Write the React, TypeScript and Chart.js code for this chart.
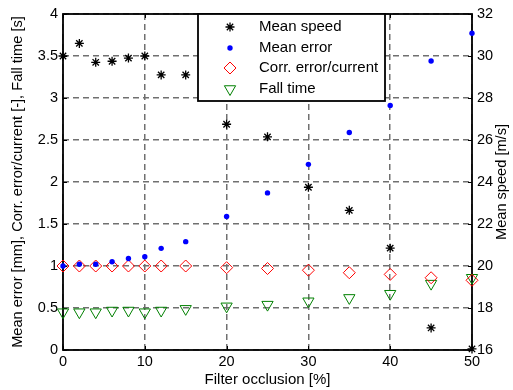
import { useEffect, useRef } from 'react';
import { Chart, registerables } from 'chart.js';

Chart.register(...registerables);

const occlusion = [0, 2, 4, 6, 8, 10, 12, 15, 20, 25, 30, 35, 40, 45, 50];
const meanSpeed = [30.0, 30.6, 29.7, 29.75, 29.9, 30.0, 29.1, 29.1, 26.75, 26.15, 23.75, 22.65, 20.85, 17.05, 16.05];
const meanError = [1.0, 1.02, 1.02, 1.05, 1.09, 1.11, 1.21, 1.29, 1.59, 1.87, 2.21, 2.59, 2.91, 3.44, 3.77];
const corrError = [1.0, 1.0, 1.0, 1.0, 1.0, 1.0, 1.0, 1.0, 0.98, 0.97, 0.95, 0.92, 0.9, 0.86, 0.83];
const fallTime = [0.45, 0.45, 0.45, 0.47, 0.47, 0.45, 0.47, 0.49, 0.52, 0.54, 0.58, 0.62, 0.67, 0.79, 0.86];

const seriesLabels = ['Mean speed', 'Mean error', 'Corr. error/current', 'Fall time'];
const xTitle = 'Filter occlusion [%]';
const yTitle = 'Mean error [mm], Corr. error/current [-], Fall time [s]';
const y1Title = 'Mean speed [m/s]';

const FONT = '"Liberation Sans", Arial, sans-serif';

function pts(vals: number[]) {
  return occlusion.map((x, i) => ({ x, y: vals[i] }));
}

function drawMarker(ctx: CanvasRenderingContext2D, kind: number, x: number, y: number) {
  ctx.save();
  ctx.lineWidth = 1;
  if (kind === 0) {
    ctx.strokeStyle = '#000';
    ctx.lineWidth = 1.3;
    const r = 4.5;
    ctx.beginPath();
    ctx.moveTo(x - r, y); ctx.lineTo(x + r, y);
    ctx.moveTo(x, y - r); ctx.lineTo(x, y + r);
    const d = r * Math.SQRT1_2;
    ctx.moveTo(x - d, y - d); ctx.lineTo(x + d, y + d);
    ctx.moveTo(x - d, y + d); ctx.lineTo(x + d, y - d);
    ctx.stroke();
  } else if (kind === 1) {
    ctx.fillStyle = '#0000ff';
    ctx.beginPath();
    ctx.arc(x, y, 2.7, 0, Math.PI * 2);
    ctx.fill();
  } else if (kind === 2) {
    ctx.strokeStyle = '#ff0000';
    const r = 6;
    ctx.beginPath();
    ctx.moveTo(x, y - r); ctx.lineTo(x + r, y); ctx.lineTo(x, y + r); ctx.lineTo(x - r, y);
    ctx.closePath();
    ctx.stroke();
  } else {
    ctx.strokeStyle = '#008000';
    const r = 6.5;
    ctx.beginPath();
    ctx.moveTo(x, y + r);
    ctx.lineTo(x + r * Math.sin(Math.PI * 2 / 3), y - r / 2);
    ctx.lineTo(x - r * Math.sin(Math.PI * 2 / 3), y - r / 2);
    ctx.closePath();
    ctx.stroke();
  }
  ctx.restore();
}

const decorPlugin = {
  id: 'decor',
  beforeDatasetsDraw(chart: any) {
    const { ctx, chartArea: ca } = chart;
    const L = Math.round(ca.left);
    const R = Math.round(ca.right);
    const T = Math.round(ca.top);
    const B = Math.round(ca.bottom);
    ctx.save();
    ctx.strokeStyle = '#000';
    ctx.lineWidth = 1;
    ctx.beginPath();
    const xs = chart.scales.x;
    xs.ticks.forEach((t: any) => {
      const px = Math.round(xs.getPixelForValue(t.value)) + 0.5;
      ctx.moveTo(px, B); ctx.lineTo(px, B - 4);
      ctx.moveTo(px, T); ctx.lineTo(px, T + 4);
    });
    const ys = chart.scales.y;
    ys.ticks.forEach((t: any) => {
      const py = Math.round(ys.getPixelForValue(t.value)) + 0.5;
      ctx.moveTo(L, py); ctx.lineTo(L + 4, py);
    });
    const y1 = chart.scales.y1;
    y1.ticks.forEach((t: any) => {
      const py = Math.round(y1.getPixelForValue(t.value)) + 0.5;
      ctx.moveTo(R, py); ctx.lineTo(R - 4, py);
    });
    ctx.stroke();
    ctx.lineWidth = 1.8;
    ctx.strokeRect(L, T, R - L, B - T);
    ctx.restore();
  },
  afterDraw(chart: any) {
    const { ctx, chartArea: ca } = chart;
    const T = Math.round(ca.top);
    ctx.save();
    ctx.fillStyle = '#000';
    ctx.font = '15px ' + FONT;
    ctx.textAlign = 'center';
    ctx.textBaseline = 'middle';
    ctx.fillText(xTitle, (ca.left + ca.right) / 2, 380);
    ctx.font = '14.6px ' + FONT;
    ctx.save();
    ctx.translate(18, (ca.top + ca.bottom) / 2);
    ctx.rotate(-Math.PI / 2);
    ctx.fillText(yTitle, 0, 0);
    ctx.restore();
    ctx.save();
    ctx.translate(502, (ca.top + ca.bottom) / 2);
    ctx.rotate(-Math.PI / 2);
    ctx.fillText(y1Title, 0, 0);
    ctx.restore();

    // legend
    const lx = 198, ly = T, lw = 187, lh = 87;
    ctx.fillStyle = '#fff';
    ctx.fillRect(lx, ly, lw, lh);
    ctx.strokeStyle = '#000';
    ctx.lineWidth = 1.8;
    ctx.strokeRect(lx, ly, lw, lh);
    const rows = [27, 48, 68, 89];
    chart.data.datasets.forEach((ds: any, i: number) => {
      drawMarker(ctx, i, 230, rows[i]);
      ctx.fillStyle = '#000';
      ctx.textAlign = 'left';
      ctx.textBaseline = 'middle';
      ctx.font = '15px ' + FONT;
      ctx.fillText(ds.label, 259, rows[i]);
    });
    ctx.restore();
  },
};

const tickFmt = (v: any) => String(Math.round(Number(v) * 100) / 100);

export default function App() {
  const ref = useRef<HTMLCanvasElement>(null);
  useEffect(() => {
    const gridColor = '#707070';
    const tickFont = { family: FONT, size: 14.5 };
    const chart = new Chart(ref.current!, {
      type: 'scatter',
      data: {
        datasets: [
          {
            label: seriesLabels[0],
            data: pts(meanSpeed),
            yAxisID: 'y1',
            pointStyle: 'star',
            radius: 4.5,
            borderColor: '#000',
            backgroundColor: '#000',
            borderWidth: 1.3,
            clip: false,
          },
          {
            label: seriesLabels[1],
            data: pts(meanError),
            yAxisID: 'y',
            pointStyle: 'circle',
            radius: 2.7,
            borderColor: '#0000ff',
            backgroundColor: '#0000ff',
            borderWidth: 0,
            clip: false,
          },
          {
            label: seriesLabels[2],
            data: pts(corrError),
            yAxisID: 'y',
            pointStyle: 'rectRot',
            radius: 6,
            borderColor: '#ff0000',
            backgroundColor: 'rgba(0,0,0,0)',
            borderWidth: 1,
            clip: false,
          },
          {
            label: seriesLabels[3],
            data: pts(fallTime),
            yAxisID: 'y',
            pointStyle: 'triangle',
            rotation: 180,
            radius: 6.5,
            borderColor: '#008000',
            backgroundColor: 'rgba(0,0,0,0)',
            borderWidth: 1,
            clip: false,
          },
        ] as any,
      },
      options: {
        responsive: false,
        animation: false,
        devicePixelRatio: 1,
        layout: { padding: { top: 14, left: 0, right: 0, bottom: 0 } },
        plugins: {
          legend: { display: false },
          tooltip: { enabled: false },
        },
        scales: {
          x: {
            type: 'linear',
            position: 'bottom',
            min: 0,
            max: 50,
            ticks: { stepSize: 10, color: '#000', font: tickFont, padding: 3, maxRotation: 0, callback: tickFmt },
            grid: { color: gridColor, lineWidth: 1.5, drawTicks: false },
            border: { display: false, dash: [6, 4] },
            afterFit: (s: any) => { s.height = 40; },
          },
          y: {
            type: 'linear',
            position: 'left',
            min: 0,
            max: 4,
            ticks: { stepSize: 0.5, color: '#000', font: tickFont, padding: 5, callback: tickFmt },
            grid: { color: gridColor, lineWidth: 1.5, drawTicks: false },
            border: { display: false, dash: [6, 4] },
            afterFit: (s: any) => { s.width = 63; },
          },
          y1: {
            type: 'linear',
            position: 'right',
            min: 16,
            max: 32,
            ticks: { stepSize: 2, color: '#000', font: tickFont, padding: 5, callback: tickFmt },
            grid: { display: false, drawTicks: false },
            border: { display: false },
            afterFit: (s: any) => { s.width = 41; },
          },
        },
      } as any,
      plugins: [decorPlugin],
    });
    return () => chart.destroy();
  }, []);
  return (
    <div style={{ position: 'fixed', left: 0, top: 0, width: 513, height: 390, background: '#fff' }}>
      <canvas ref={ref} width={513} height={390} style={{ display: 'block' }} />
    </div>
  );
}
